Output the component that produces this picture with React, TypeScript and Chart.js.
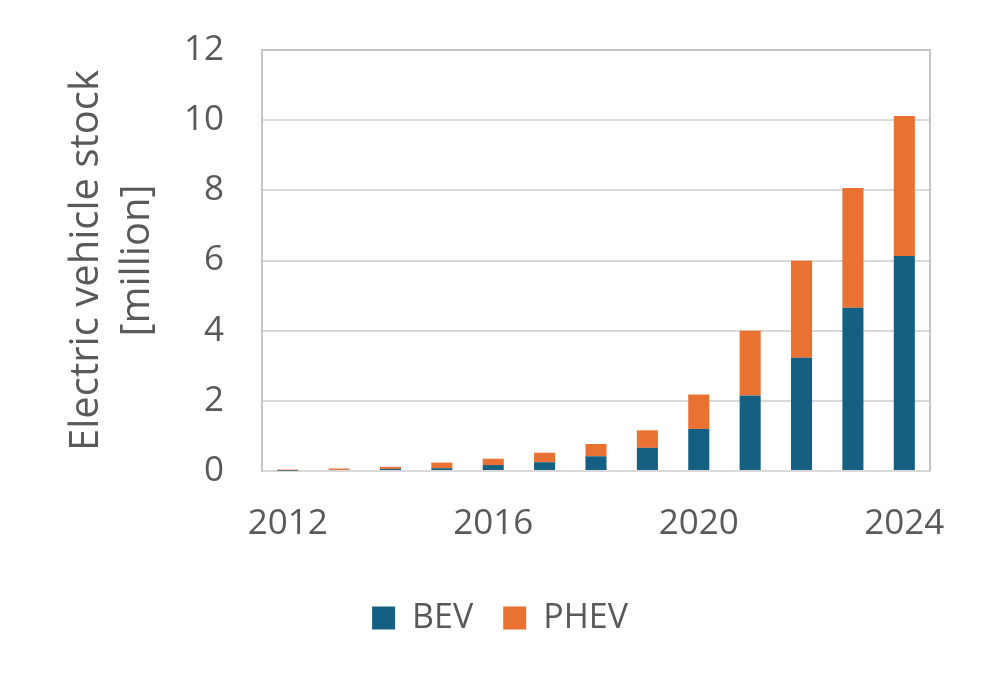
import React, { useEffect, useRef } from "react";
import { Chart, registerables } from "chart.js";

Chart.register(...registerables);

const years = ["2012", "2013", "2014", "2015", "2016", "2017", "2018", "2019", "2020", "2021", "2022", "2023", "2024"];
const bevValues = [0.01, 0.03, 0.06, 0.08, 0.17, 0.25, 0.42, 0.66, 1.2, 2.15, 3.23, 4.65, 6.13];
const phevValues = [0.03, 0.04, 0.06, 0.16, 0.18, 0.27, 0.35, 0.5, 0.98, 1.85, 2.76, 3.42, 3.99];
const shownYearLabels = ["2012", "2016", "2020", "2024"];
const yTitleLines = ["Electric vehicle stock", "[million]"];

const TEXT = "#595959";
const FONT = "'Open Sans', 'DejaVu Sans', sans-serif";

const framePlugin = {
  id: "frame",
  beforeDatasetsDraw(chart: any) {
    const { ctx, chartArea } = chart;
    ctx.save();
    ctx.strokeStyle = "#c4c4c4";
    ctx.lineWidth = 2;
    ctx.beginPath();
    ctx.moveTo(chartArea.left, chartArea.top);
    ctx.lineTo(chartArea.right, chartArea.top);
    ctx.lineTo(chartArea.right, chartArea.bottom);
    ctx.stroke();
    ctx.restore();
  },
};

export default function App() {
  const ref = useRef<HTMLCanvasElement | null>(null);
  useEffect(() => {
    if (!ref.current) return;
    const chart = new Chart(ref.current, {
      type: "bar",
      data: {
        labels: years,
        datasets: [
          { label: "BEV", data: bevValues, backgroundColor: "#156082", borderWidth: 0 },
          { label: "PHEV", data: phevValues, backgroundColor: "#E97132", borderWidth: 0 },
        ],
      },
      plugins: [framePlugin],
      options: {
        animation: false,
        responsive: true,
        maintainAspectRatio: false,
        layout: { padding: { left: 70, right: 56, top: 50, bottom: 38 } },
        datasets: { bar: { categoryPercentage: 1, barPercentage: 0.41 } },
        plugins: {
          tooltip: { enabled: false },
          legend: {
            position: "bottom",
            labels: {
              boxWidth: 23,
              boxHeight: 23,
              padding: 30,
              color: TEXT,
              font: { family: FONT, size: 34 },
            },
          },
        },
        scales: {
          x: {
            stacked: true,
            grid: { display: false, drawTicks: false },
            border: { color: "#d9d9d9", width: 2 },
            ticks: {
              autoSkip: false,
              maxRotation: 0,
              padding: 32,
              color: TEXT,
              font: { family: FONT, size: 35 },
              callback: function (this: any, value: any) {
                const lbl = this.getLabelForValue(value);
                return shownYearLabels.includes(lbl) ? lbl : "";
              },
            },
            afterFit(scale: any) {
              scale.height = 100;
              scale.paddingLeft = 0;
              scale.paddingRight = 0;
            },
          },
          y: {
            stacked: true,
            min: 0,
            max: 12,
            grid: { color: "#d9d9d9", lineWidth: 2, drawTicks: false },
            border: { color: "#c4c4c4", width: 2 },
            ticks: {
              stepSize: 2,
              padding: 38,
              color: TEXT,
              font: { family: FONT, size: 35 },
            },
            title: {
              display: true,
              text: yTitleLines,
              color: TEXT,
              font: { family: FONT, size: 40, lineHeight: 1.28 },
              padding: { top: -9, bottom: 0 },
            },
            afterFit(scale: any) {
              scale.width = 192;
              scale.paddingTop = 0;
              scale.paddingBottom = 0;
            },
          },
        },
      },
    } as any);
    return () => chart.destroy();
  }, []);
  return (
    <div style={{ position: "absolute", left: 0, top: 0, width: 986, height: 683, background: "#fff" }}>
      <canvas ref={ref} />
    </div>
  );
}
